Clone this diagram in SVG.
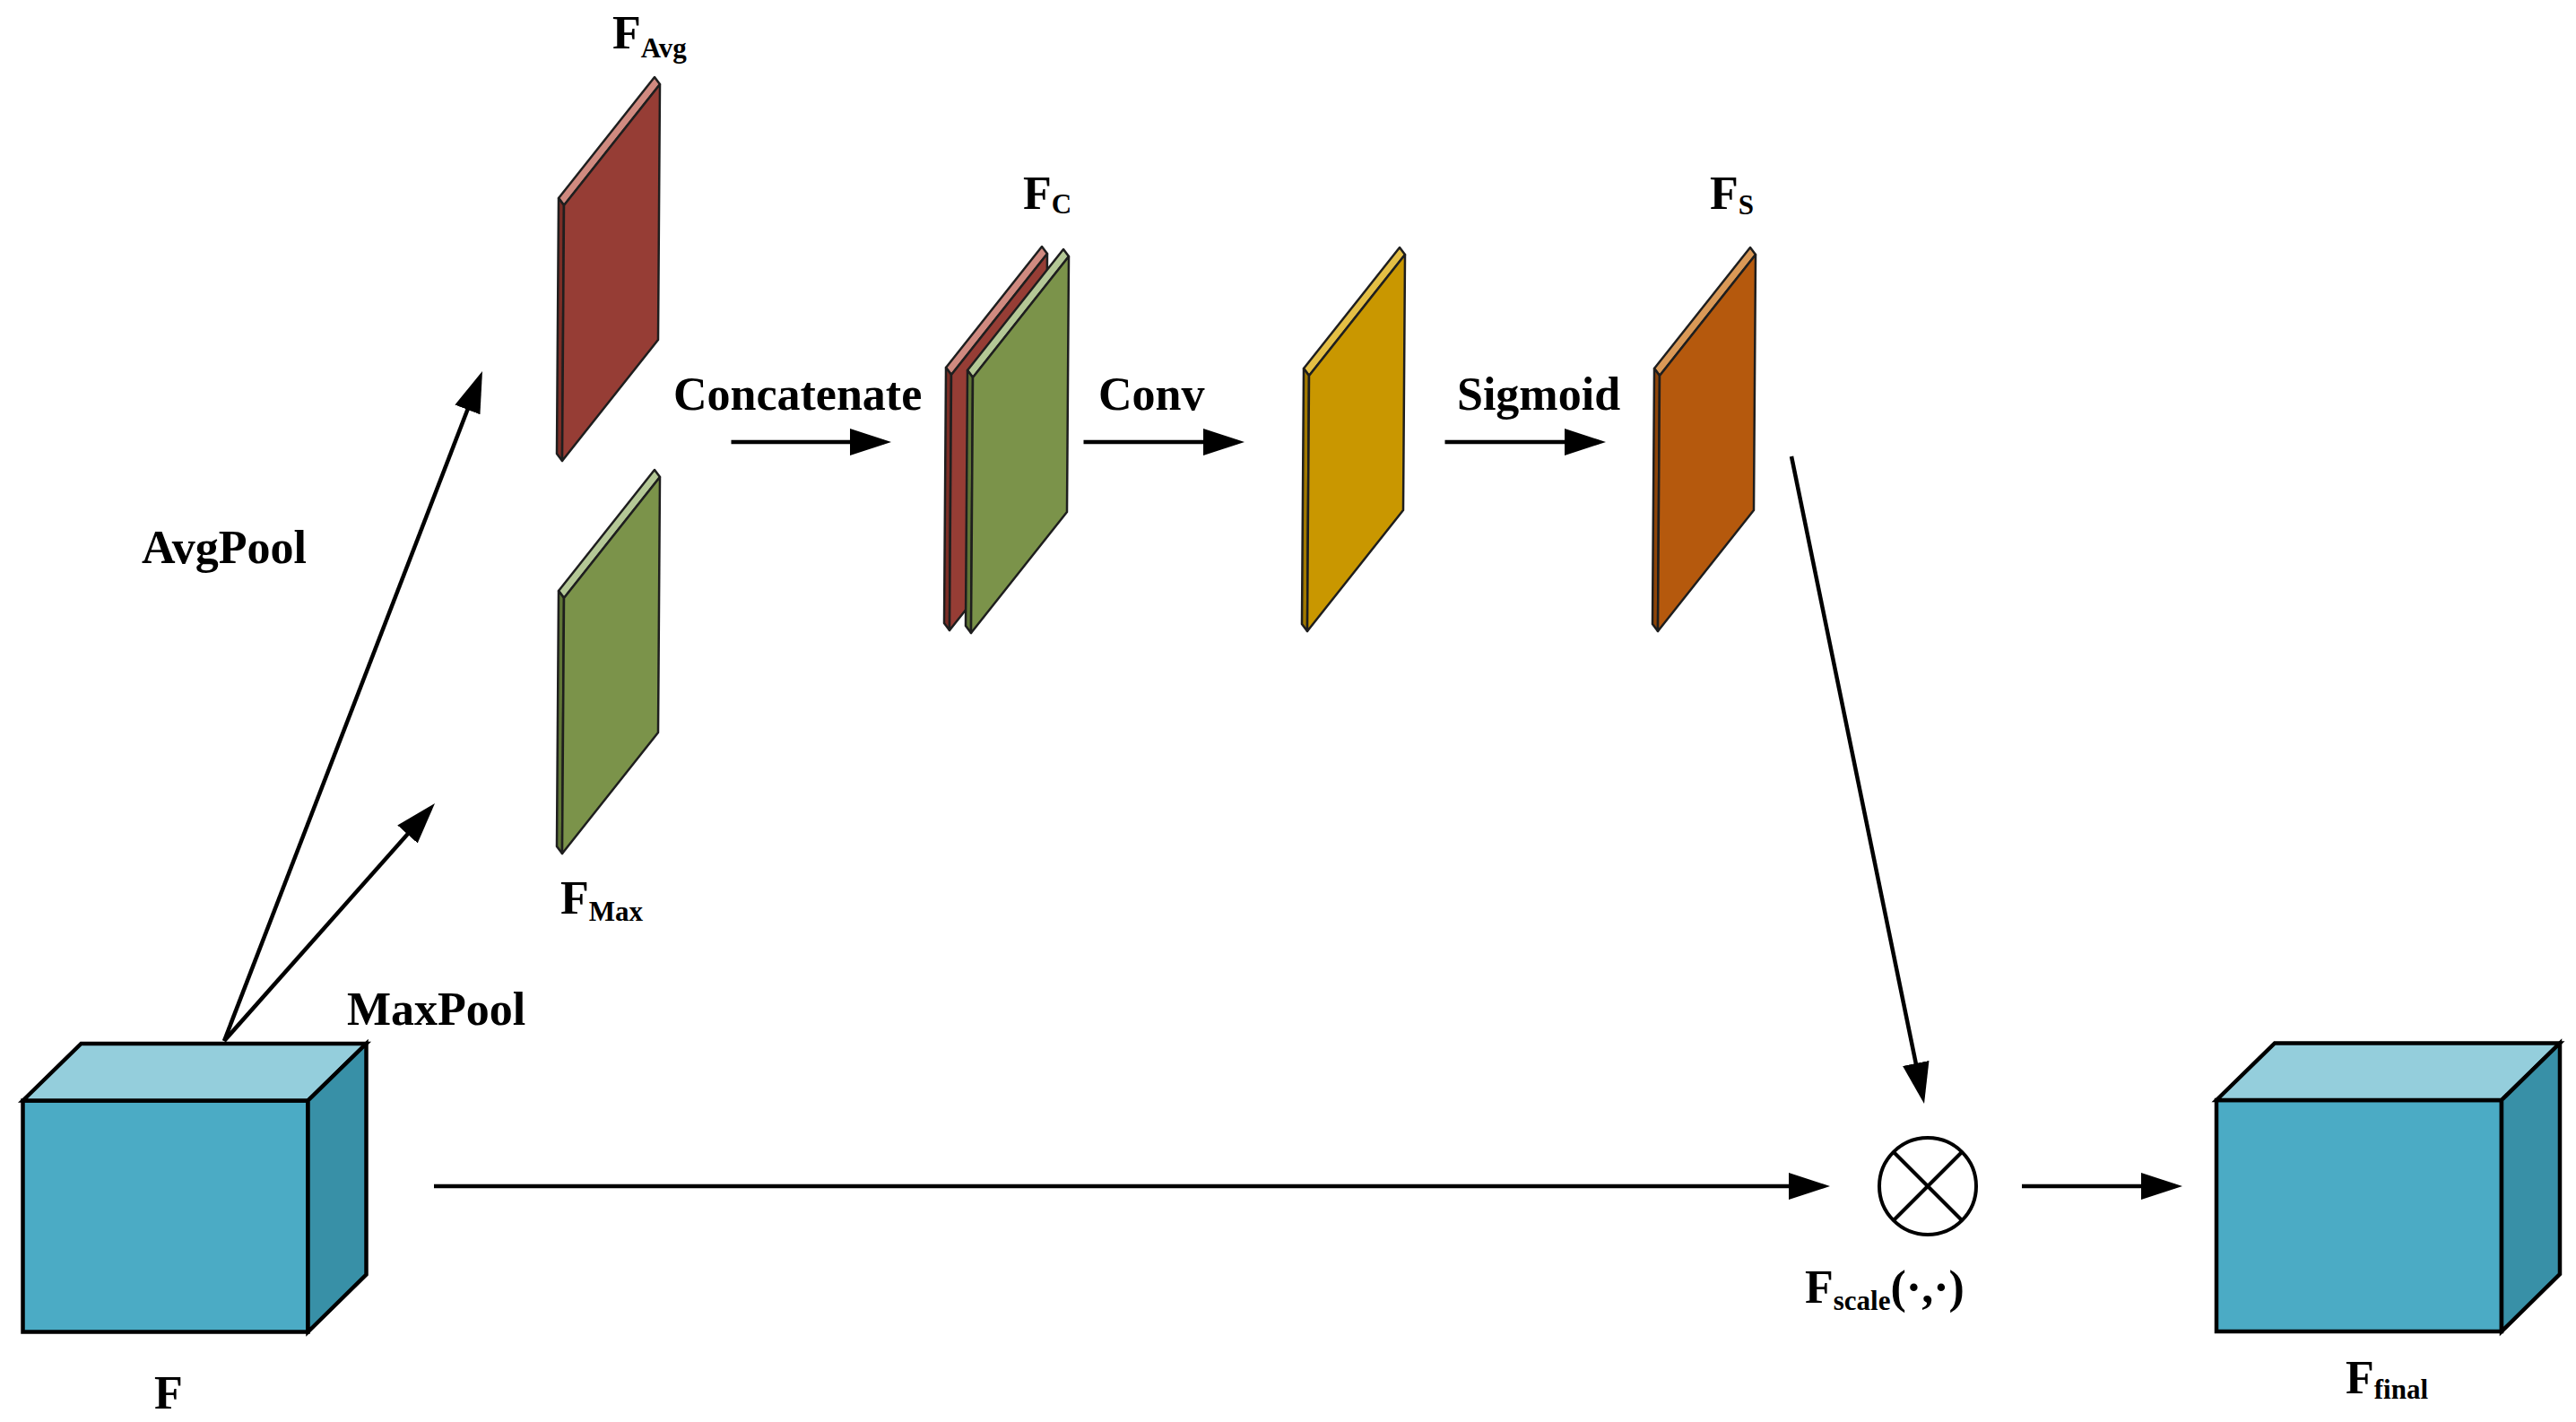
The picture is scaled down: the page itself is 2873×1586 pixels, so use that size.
<svg xmlns="http://www.w3.org/2000/svg" xmlns:xlink="http://www.w3.org/1999/xlink" width="2873" height="1586" viewBox="0 0 2873 1586">
<style>
  .lbl { font-family: "Liberation Serif", "Times New Roman", serif; font-weight: bold; font-size: 52px; fill: #000; }
  .sub { font-size: 31px; }
  .conn { stroke: #000; stroke-width: 4.5; fill: none; marker-end: url(#ah); }
  .plate polygon { stroke: #1e1e1e; stroke-width: 2.5; stroke-linejoin: round; }
  .cube polygon, .cube rect { stroke: #000; stroke-width: 4.5; stroke-linejoin: miter; }
  .red .f { fill: #963D35; } .red .t { fill: #D08A80; } .red .s { fill: #7A2D26; }
  .green .f { fill: #7B934A; } .green .t { fill: #B4C896; } .green .s { fill: #5F7536; }
  .yellow .f { fill: #C99700; } .yellow .t { fill: #E4BF45; } .yellow .s { fill: #A07800; }
  .orange .f { fill: #B5590D; } .orange .t { fill: #DA9957; } .orange .s { fill: #8E4509; }
</style>
<defs>
  <marker id="ah" markerUnits="userSpaceOnUse" markerWidth="50" markerHeight="32" refX="38" refY="15" orient="auto" viewBox="0 0 50 32">
    <path d="M0,0 L46,15 L0,30 Z" fill="#000"/>
  </marker>
  <g id="cube" class="cube">
    <rect x="0" y="0" width="318" height="258" fill="#4BABC5" stroke="#000" stroke-width="4.5"/>
    <polygon points="0,0 65,-63.5 383,-63.5 318,0" fill="#94CEDC" stroke="#000" stroke-width="4.5"/>
    <polygon points="318,0 383,-63.5 383,194 318,258" fill="#3890A7" stroke="#000" stroke-width="4.5"/>
  </g>
</defs>
<rect width="2873" height="1586" fill="#fff"/>

<g id="connectors">
  <line class="conn" x1="250" y1="1161" x2="535.1" y2="421.5"/>
  <line class="conn" x1="250" y1="1161" x2="479.7" y2="902"/>
  <line class="conn" x1="815.5" y1="493" x2="986" y2="493"/>
  <line class="conn" x1="1208.5" y1="493" x2="1380" y2="493"/>
  <line class="conn" x1="1611.5" y1="493" x2="1783" y2="493"/>
  <line class="conn" x1="1998" y1="509" x2="2144.4" y2="1223.2"/>
  <line class="conn" x1="484" y1="1323" x2="2033" y2="1323"/>
  <line class="conn" x1="2255" y1="1323" x2="2426" y2="1323"/>
</g>

<g id="node-F">
  <use xlink:href="#cube" href="#cube" transform="translate(25.5,1227.5)"/>
  <text class="lbl" x="172" y="1571">F</text>
</g>

<g id="node-FAvg" class="plate red">
  <polygon class="t" points="623,221 730,86 736,94 629,229"/>
  <polygon class="s" points="623,221 629,229 627,514 621,506"/>
  <polygon class="f" points="629,229 736,94 734,379 627,514"/>
  <text class="lbl" x="683" y="54">F<tspan class="sub" dy="10">Avg</tspan></text>
</g>

<g id="node-FMax" class="plate green">
  <polygon class="t" points="623,659 730,524 736,532 629,667"/>
  <polygon class="s" points="623,659 629,667 627,952 621,944"/>
  <polygon class="f" points="629,667 736,532 734,817 627,952"/>
  <text class="lbl" x="625" y="1019">F<tspan class="sub" dy="8">Max</tspan></text>
</g>

<g id="node-FC">
  <g class="plate red">
    <polygon class="t" points="1055,410 1162,275 1168,283 1061,418"/>
    <polygon class="s" points="1055,410 1061,418 1059,703 1053,695"/>
    <polygon class="f" points="1061,418 1168,283 1166,568 1059,703"/>
  </g>
  <g class="plate green">
    <polygon class="t" points="1079,413 1186,278 1192,286 1085,421"/>
    <polygon class="s" points="1079,413 1085,421 1083,706 1077,698"/>
    <polygon class="f" points="1085,421 1192,286 1190,571 1083,706"/>
  </g>
  <text class="lbl" x="1141" y="233">F<tspan class="sub" font-size="28" dy="5">C</tspan></text>
</g>

<g id="node-conv" class="plate yellow">
  <polygon class="t" points="1454,411 1561,276 1567,284 1460,419"/>
  <polygon class="s" points="1454,411 1460,419 1458,704 1452,696"/>
  <polygon class="f" points="1460,419 1567,284 1565,569 1458,704"/>
</g>

<g id="node-FS" class="plate orange">
  <polygon class="t" points="1845,411 1952,276 1958,284 1851,419"/>
  <polygon class="s" points="1845,411 1851,419 1849,704 1843,696"/>
  <polygon class="f" points="1851,419 1958,284 1956,569 1849,704"/>
  <text class="lbl" x="1907" y="233">F<tspan class="sub" font-size="29" dy="6">S</tspan></text>
</g>

<g id="node-scale">
  <circle cx="2150" cy="1323" r="54" fill="#fff" stroke="#000" stroke-width="4"/>
  <line x1="2112" y1="1285" x2="2188" y2="1361" stroke="#000" stroke-width="4"/>
  <line x1="2188" y1="1285" x2="2112" y2="1361" stroke="#000" stroke-width="4"/>
  <text class="lbl" x="2013" y="1453" font-size="51">F<tspan class="sub" font-size="34" dy="8">scale</tspan><tspan dy="-8">(·,·)</tspan></text>
</g>

<g id="node-Ffinal">
  <use xlink:href="#cube" href="#cube" transform="translate(2472,1227)"/>
  <text class="lbl" x="2616" y="1554">F<tspan class="sub" font-size="33" dy="6">final</tspan></text>
</g>

<g id="labels">
  <text class="lbl" x="158" y="628">AvgPool</text>
  <text class="lbl" x="387" y="1143">MaxPool</text>
  <text class="lbl" x="751" y="457">Concatenate</text>
  <text class="lbl" x="1225" y="457">Conv</text>
  <text class="lbl" x="1625" y="457">Sigmoid</text>
</g>
</svg>
